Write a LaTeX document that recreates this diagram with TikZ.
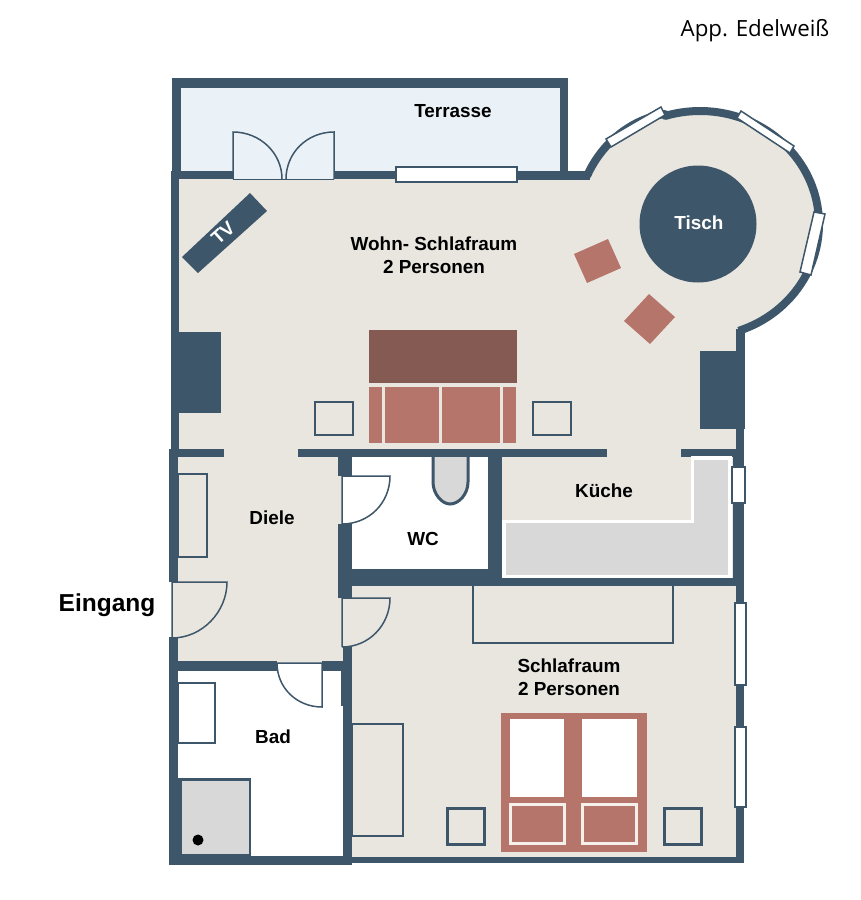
\documentclass[tikz,border=0pt]{standalone}
\usepackage{fontspec}
\setmainfont{Liberation Sans}
\newfontfamily\appfont{Open Sans}
\definecolor{wallc}{HTML}{3D566A}
\definecolor{beigec}{HTML}{E9E6E0}
\definecolor{terrc}{HTML}{EAF2F7}
\definecolor{greyc}{HTML}{D8D8D8}
\definecolor{bedc}{HTML}{B5756A}
\definecolor{beddark}{HTML}{855A52}
\definecolor{creamc}{HTML}{F5F0EA}
\tikzset{
  wall/.style={fill=wallc,draw=none},
  win/.style={fill=white,draw=wallc,line width=1.5pt},
  doorline/.style={draw=wallc,line width=1.5pt},
  doorsill/.style={draw=wallc,line width=0.5pt},
  furn/.style={draw=wallc,line width=1.6pt},
  furnb/.style={draw=wallc,line width=3pt},
  lab/.style={font=\fontsize{18.9}{23}\selectfont\bfseries,text=black,inner sep=0pt,align=center},
  labw/.style={font=\fontsize{18.9}{23}\selectfont\bfseries,text=white,inner sep=0pt},
}
\newcommand{\baypath}{(587,176) .. controls (603,140) and (635,118) .. (665,114) -- plot[domain=-107:71,samples=70] ({700+119*cos(\x)},{224+113*sin(\x)})}
\begin{document}
\begin{tikzpicture}[x=1pt,y=-1pt]
\useasboundingbox (0,0) rectangle (860,900);
% floors
\fill[terrc] (178,84) rectangle (562,179);
\fill[beigec] (172,176) rectangle (740,860);
\fill[beigec] \baypath -- (736,340) -- (586,340) -- cycle;
\fill[white] (352,457) rectangle (488,569);
\fill[white] (178,663) rectangle (344,857);
% bay wall
\draw[wallc,line width=8pt,line join=round] \baypath;
% walls
\fill[wall] (172,78) rectangle (568,88);
\fill[wall] (172,78) rectangle (181,172);
\fill[wall] (560,78) rectangle (568,180);
\fill[wall] (171,171) rectangle (233,179);
\fill[wall] (334,171) rectangle (396,179);
\fill[wall] (517,171) rectangle (590,180);
\fill[wall] (171,171) rectangle (179,450);
\fill[wall] (171,332) rectangle (221,413);
\fill[wall] (736,329) rectangle (745,429);
\fill[wall] (700,351) rectangle (736,429);
\fill[wall] (736,429) rectangle (744,456);
\fill[wall] (733,456) rectangle (744,586);
\fill[wall] (736,586) rectangle (744,863);
\fill[wall] (169,449) rectangle (224,457);
\fill[wall] (298,449) rectangle (607,457);
\fill[wall] (681,449) rectangle (736,457);
\fill[wall] (169,449) rectangle (178,582);
\fill[wall] (169,637) rectangle (178,865);
\fill[wall] (169,661) rectangle (277,671);
\fill[wall] (322,661) rectangle (344,671);
\fill[wall] (338,449) rectangle (352,476);
\fill[wall] (338,524) rectangle (352,598);
\fill[wall] (343,647) rectangle (352,865);
\fill[wall] (488,449) rectangle (502,586);
\fill[wall] (338,569) rectangle (502,586);
\fill[wall] (502,578) rectangle (736,586);
\fill[wall] (169,856) rectangle (352,865);
\fill[wall] (352,857) rectangle (744,863);
\draw[doorline] (342,671) -- (342,706);
% kitchen counter
\fill[greyc,draw=white,line width=3.6pt] (504,521.5) -- (692.5,521.5) -- (692.5,458) -- (730,458) -- (730,576.5) -- (504,576.5) -- cycle;
% living furniture
\fill[wallc] (250,193) -- (267,211) -- (198,273) -- (182,257) -- cycle;
\fill[wallc] (698,224) circle (58.5);
\fill[bedc] (574,254) -- (608,239) -- (621,268) -- (587,283) -- cycle;
\fill[bedc] (649,294) -- (675,317) -- (650,344) -- (624,321) -- cycle;
\fill[beddark] (369,330) rectangle (517,383);
\fill[bedc] (369,387) rectangle (382,443);
\fill[bedc] (385,387) rectangle (439,443);
\fill[bedc] (442,387) rectangle (500,443);
\fill[bedc] (503,387) rectangle (516,443);
\draw[furn] (315,402) rectangle (353,435);
\draw[furn] (533,402) rectangle (571,435);
% toilet
\draw[furnb,fill=greyc] (433,457) -- (433,482) .. controls (433,494) and (442,504) .. (450,504) .. controls (459,504) and (468,494) .. (468,482) -- (468,457);
% other furniture
\draw[furn] (178,474) rectangle (207,557);
\draw[furn] (178,683) rectangle (215,743);
\draw[furn] (473,586) -- (473,643) -- (673,643) -- (673,586);
\draw[furn] (352,724) rectangle (403,836);
\fill[wallc] (178,778) rectangle (251,857);
\fill[greyc] (182,781) rectangle (249,854);
\fill[black] (198,840) circle (5.5);
% big bed
\fill[bedc] (501,713) rectangle (647,852);
\fill[white] (510,719) rectangle (564,797);
\fill[white] (582,719) rectangle (637,797);
\draw[creamc,line width=3pt] (510.5,804.5) rectangle (564.5,843.5);
\draw[creamc,line width=3pt] (582.5,804.5) rectangle (636.5,843.5);
\draw[furnb] (447.5,808.5) rectangle (484.5,844.5);
\draw[furnb] (664.5,808.5) rectangle (701.5,844.5);
% doors
\fill[terrc] (233,179) -- (233,132) -- (334,132) -- (334,179) -- cycle;
\draw[doorsill] (233,179) -- (334,179);
\draw[doorline] (233,179) -- (233,132) .. controls (260,132) and (282,153) .. (282,179);
\draw[doorline] (334,179) -- (334,132) .. controls (307,132) and (286,153) .. (286,179);
\draw[doorline,fill=beigec] (172,638) -- (172,582) -- (227,582) .. controls (227,612) and (202,638) .. (172,638);
\draw[doorline,fill=white] (342,524) -- (342,476) -- (390,476) .. controls (390,503) and (369,524) .. (342,524);
\draw[doorline,fill=beigec] (342,647) -- (342,598) -- (390,598) .. controls (390,625) and (369,647) .. (342,647);
\draw[doorline,fill=white] (277,663) -- (322,663) -- (322,707) .. controls (297,707) and (277,688) .. (277,663);
% windows
\draw[win] (396,167) rectangle (517,182);
\draw[win] (606,139) -- (661,107) -- (665,115) -- (611,147) -- cycle;
\draw[win] (741,111) -- (794,146) -- (790,153) -- (737,118) -- cycle;
\draw[win] (814,212) -- (825,214) -- (811,275) -- (800,272) -- cycle;
\draw[win] (732,467) rectangle (745,503);
\draw[win] (735,603) rectangle (746,685);
\draw[win] (735,727) rectangle (746,807);
% labels
\node[lab] (terrasse) at (453,111) {Terrasse};
\node[lab] (wohn) at (434,255.5) {Wohn- Schlafraum\\2 Personen};
\node[labw,rotate=42] (tv) at (223,233) {TV};
\node[labw] (tisch) at (699,223) {Tisch};
\node[lab] (diele) at (272,518) {Diele};
\node[lab] (wc) at (423,539) {WC};
\node[lab] (kueche) at (604,491) {Küche};
\node[lab] (schlaf) at (569,677.5) {Schlafraum\\2 Personen};
\node[lab] (bad) at (273,737) {Bad};
\node[font=\fontsize{24.5}{26}\selectfont\bfseries,inner sep=0pt] (eingang) at (107,605) {Eingang};
\node[font=\appfont\fontsize{22.3}{26}\selectfont,inner sep=0pt] (app) at (755,31) {App. Edelweiß};
\end{tikzpicture}
\end{document}
